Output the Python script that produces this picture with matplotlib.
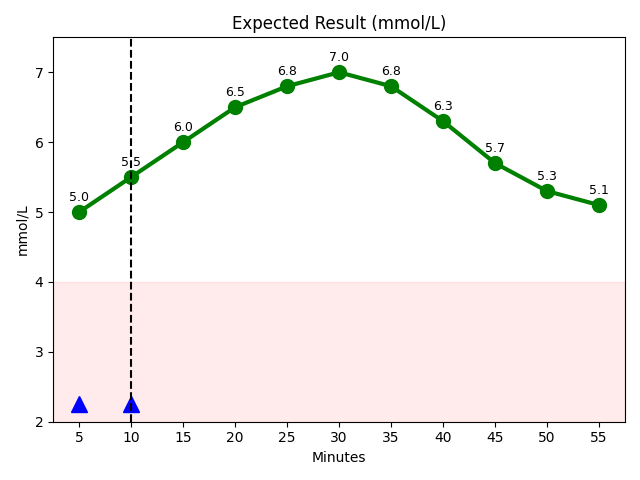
import matplotlib
matplotlib.use('Agg')
import matplotlib.pyplot as plt

# 数据
minutes = [5, 10, 15, 20, 25, 30, 35, 40, 45, 50, 55]
glucose = [5.0, 5.5, 6.0, 6.5, 6.8, 7.0, 6.8, 6.3, 5.7, 5.3, 5.1]
event_x = [5, 10]
event_y = [2.25, 2.25]
low_limit = 4
marker_line_x = 10

fig, ax = plt.subplots(figsize=(6.4, 4.8), dpi=100)

# 低值区域
ax.axhspan(2, low_limit, color='red', alpha=0.08)

# 曲线
ax.plot(minutes, glucose, color='green', linewidth=3, marker='o', markersize=10)
for x, y in zip(minutes, glucose):
    ax.annotate(f"{y:.1f}", (x, y), textcoords='offset points', xytext=(0, 8),
                ha='center', fontsize=9)

# 事件标记
ax.plot(event_x, event_y, linestyle='none', marker='^', markersize=12, color='blue')
ax.axvline(marker_line_x, color='black', linestyle='--', linewidth=1.5, zorder=5)

ax.set_ylim(2, 7.5)
ax.set_xticks(minutes)
ax.set_title("Expected Result (mmol/L)")
ax.set_xlabel("Minutes")
ax.set_ylabel("mmol/L")

plt.tight_layout()
plt.savefig("out.png")
